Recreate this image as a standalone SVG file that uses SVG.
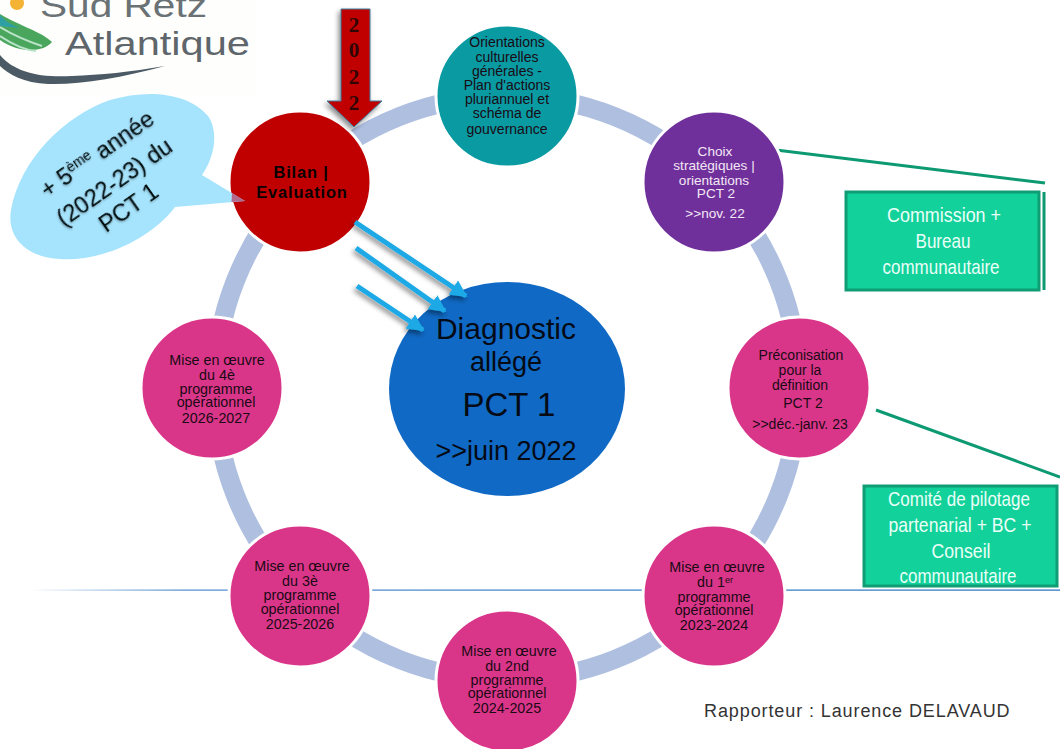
<svg xmlns="http://www.w3.org/2000/svg" width="1060" height="749" viewBox="0 0 1060 749">
<style>
text{font-family:"Liberation Sans",Arial,sans-serif;text-anchor:middle}
.n{font-size:14px;fill:#1a0a14}
.m{font-size:14.300px;fill:#1a0a14}
.w{font-size:13.600px;fill:#f3e8f5}
.b{font-size:21px;fill:#eafff8}
.c{font-size:30px;fill:#050a14}
.node{stroke:#fff;stroke-width:3}
.box{fill:#13d19a;stroke:#0e9d75;stroke-width:3}
.gl{stroke:#0d9a72;stroke-width:3;fill:none}
.ba{stroke:#1ca9e6;stroke-width:5;fill:none;marker-end:url(#ah);filter:url(#sh)}
</style>
<defs>
<marker id="ah" viewBox="0 0 10 10" refX="9" refY="5" markerWidth="3.400" markerHeight="3.400" orient="auto" markerUnits="strokeWidth"><path d="M0 0L10 5L0 10Z" fill="#1ca9e6"/></marker>
<filter id="sh" x="-30%" y="-30%" width="160%" height="160%"><feDropShadow dx="-2" dy="3" stdDeviation="2.500" flood-color="#000" flood-opacity=".45"/></filter>
<filter id="ts" x="-10%" y="-10%" width="120%" height="120%"><feDropShadow dx="-1" dy="1" stdDeviation="1" flood-color="#000" flood-opacity=".3"/></filter>
<linearGradient id="hl" gradientUnits="userSpaceOnUse" x1="30" x2="1060" y1="0" y2="0"><stop offset="0" stop-color="#1f6fc0" stop-opacity="0"/><stop offset=".15" stop-color="#1f6fc0" stop-opacity=".8"/><stop offset="1" stop-color="#1f6fc0"/></linearGradient>
</defs>
<rect width="1060" height="749" fill="#fff"/>
<rect x="30" y="589.500" width="1030" height="1.200" fill="url(#hl)"/>
<g id="logo">
<rect x="0" y="0" width="256" height="95" fill="#fefefc"/>
<circle cx="17" cy="3" r="7" fill="#f5b335"/>
<path d="M0 14C20 26 42 32 52 42C44 52 20 54 0 40Z" fill="#4aa65c"/>
<path d="M0 27C15 36 30 42 42 46M0 36C12 44 25 50 36 51" stroke="#b8e3c8" stroke-width="2" fill="none"/>
<path d="M0 15C6 22 12 25 20 28L0 26Z" fill="#2f9fa6"/>
<path d="M0 55C14 72 40 78 72 76C100 75 130 72 165 66C120 78 80 85 48 84C24 83 8 74 0 66Z" fill="#4b5a64"/>
<text x="40" y="17" style="text-anchor:start;font-size:34px;fill:#6a7276" textLength="167" lengthAdjust="spacingAndGlyphs">Sud Retz</text>
<text x="65" y="55" style="text-anchor:start;font-size:33px;fill:#5e666b" textLength="185" lengthAdjust="spacingAndGlyphs">Atlantique</text>
</g>
<g id="connectors">
<circle cx="507" cy="388" r="292" fill="none" stroke="#aebfe0" stroke-width="19"/>
<line class="gl" x1="776" y1="150" x2="1045" y2="183"/>
<line class="gl" x1="1044" y1="192" x2="1044" y2="290"/>
<line class="gl" x1="876" y1="410" x2="1060" y2="477"/>
</g>
<g id="n-orient"><circle class="node" cx="507" cy="96" r="71" fill="#0a9aa2"/>
<text class="n"><tspan x="507" y="47">Orientations</tspan><tspan x="507" y="62">culturelles</tspan><tspan x="507" y="76">générales -</tspan><tspan x="507" y="90">Plan d'actions</tspan><tspan x="507" y="104">pluriannuel et</tspan><tspan x="507" y="118">schéma de</tspan><tspan x="507" y="134">gouvernance</tspan></text></g>
<g id="n-choix"><circle class="node" cx="714" cy="182" r="71" fill="#70309c"/>
<text class="w"><tspan x="715" y="156">Choix</tspan><tspan x="714" y="170">stratégiques |</tspan><tspan x="714" y="185">orientations</tspan><tspan x="716" y="198">PCT 2</tspan><tspan x="715" y="218">>>nov. 22</tspan></text></g>
<g id="n-preco"><circle class="node" cx="799" cy="388" r="71" fill="#d93689"/>
<text class="n"><tspan x="801" y="360">Préconisation</tspan><tspan x="800" y="375">pour la</tspan><tspan x="800" y="390">définition</tspan><tspan x="803" y="408">PCT 2</tspan><tspan x="800" y="429">>>déc.-janv. 23</tspan></text></g>
<g id="n-mise1"><circle class="node" cx="714" cy="596" r="71" fill="#d93689"/>
<text class="m"><tspan x="717" y="572">Mise en œuvre</tspan><tspan x="715" y="587">du 1<tspan font-size="9" dy="-4">er</tspan></tspan><tspan x="714" y="602">programme</tspan><tspan x="714" y="615">opérationnel</tspan><tspan x="714" y="630">2023-2024</tspan></text></g>
<g id="n-mise2"><circle class="node" cx="507" cy="681" r="71" fill="#d93689"/>
<text class="m"><tspan x="509" y="656">Mise en œuvre</tspan><tspan x="507" y="671">du 2nd</tspan><tspan x="507" y="685">programme</tspan><tspan x="507" y="698">opérationnel</tspan><tspan x="507" y="713">2024-2025</tspan></text></g>
<g id="n-mise3"><circle class="node" cx="300" cy="596" r="71" fill="#d93689"/>
<text class="m"><tspan x="302" y="571">Mise en œuvre</tspan><tspan x="300" y="586">du 3è</tspan><tspan x="300" y="600">programme</tspan><tspan x="300" y="614">opérationnel</tspan><tspan x="300" y="629">2025-2026</tspan></text></g>
<g id="n-mise4"><circle class="node" cx="212" cy="388" r="71" fill="#d93689"/>
<text class="m"><tspan x="217" y="365">Mise en œuvre</tspan><tspan x="217" y="380">du 4è</tspan><tspan x="216" y="394">programme</tspan><tspan x="216" y="407">opérationnel</tspan><tspan x="216" y="423">2026-2027</tspan></text></g>
<g id="n-bilan"><circle class="node" cx="300" cy="182" r="71" fill="#c00000"/>
<text style="font-size:16.500px;font-weight:bold;fill:#0a0000;letter-spacing:.8px"><tspan x="301" y="178">Bilan |</tspan><tspan x="302" y="198">Evaluation</tspan></text></g>
<g id="n-diag"><ellipse cx="507" cy="389" rx="118" ry="107" fill="#1069c4"/>
<text class="c"><tspan x="506" y="339">Diagnostic</tspan><tspan x="506" y="371" font-size="27">allégé</tspan><tspan x="509" y="416" font-size="33">PCT 1</tspan><tspan x="506" y="460" font-size="27">>>juin 2022</tspan></text></g>
<g id="arrows">
<line class="ba" x1="514" y1="285" x2="514" y2="161"/>
<line class="ba" x1="355" y1="222" x2="466" y2="296"/>
<line class="ba" x1="356" y1="248" x2="445" y2="311"/>
<line class="ba" x1="357" y1="286" x2="423" y2="330"/>
</g>
<g id="n-2022">
<path d="M341 9H370V101H382L354 127L327 101H341Z" fill="#c00000" stroke="#3d7fa0" stroke-width="1" style="filter:url(#sh)"/>
<text style="font-family:'Liberation Serif',serif;font-size:21px;font-weight:bold;fill:#300505"><tspan x="354" y="32">2</tspan><tspan x="354" y="57">0</tspan><tspan x="354" y="84">2</tspan><tspan x="354" y="110">2</tspan></text>
</g>
<g id="n-bulle">
<path d="M202 175C216 155 218 130 208 116C190 94 150 88 110 100C64 116 20 160 11 210C6 240 30 258 60 259C100 262 150 240 175 207L245 201Z" fill="#a6e4fd"/>
<path d="M232 193L245 201L231.500 202Z" fill="#b26b8c"/>
<g transform="rotate(-35 115 183)" style="font-size:23.500px;fill:#050a10;filter:url(#ts)"><text><tspan x="117" y="157">+ 5<tspan font-size="14" dy="-8">ème</tspan><tspan dy="8"> année</tspan></tspan><tspan x="115" y="190">(2022-23) du</tspan><tspan x="112" y="219">PCT 1</tspan></text></g>
</g>
<g id="n-comm"><rect class="box" x="846" y="192" width="193" height="98"/>
<text class="b" x="944" y="222" textLength="114" lengthAdjust="spacingAndGlyphs">Commission +</text>
<text class="b" x="943" y="248" textLength="55" lengthAdjust="spacingAndGlyphs">Bureau</text>
<text class="b" x="941" y="274" textLength="117" lengthAdjust="spacingAndGlyphs">communautaire</text></g>
<g id="n-comite"><rect class="box" x="864" y="486" width="193" height="100"/>
<text class="b" x="959" y="506" textLength="142" lengthAdjust="spacingAndGlyphs">Comité de pilotage</text>
<text class="b" x="960" y="532" textLength="143" lengthAdjust="spacingAndGlyphs">partenarial + BC +</text>
<text class="b" x="961" y="558" textLength="59" lengthAdjust="spacingAndGlyphs">Conseil</text>
<text class="b" x="958" y="583" textLength="117" lengthAdjust="spacingAndGlyphs">communautaire</text></g>
<text x="704" y="717" style="text-anchor:start;font-size:18px;fill:#333;letter-spacing:.9px">Rapporteur : Laurence DELAVAUD</text>
</svg>
